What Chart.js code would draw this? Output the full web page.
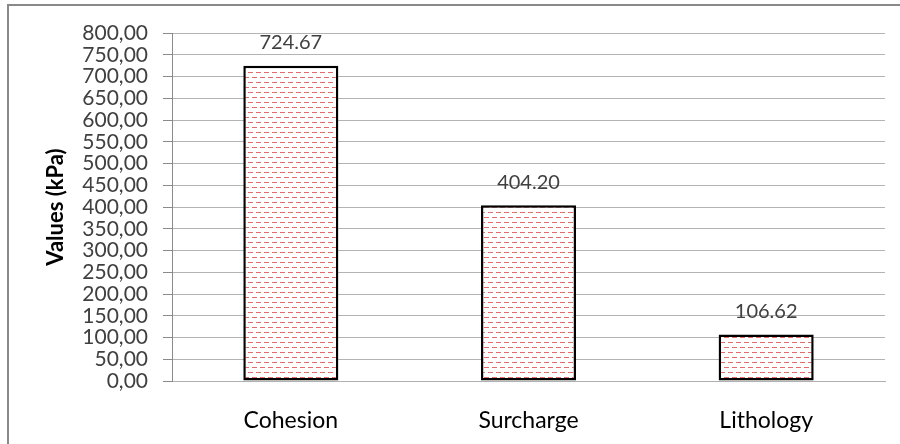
<!DOCTYPE html>
<html>
<head>
<meta charset="utf-8">
<script src="https://cdn.jsdelivr.net/npm/chart.js@4/dist/chart.umd.min.js"></script>
<style>
  html, body { margin: 0; padding: 0; background: #fff; }
  #wrap { width: 900px; height: 444px; position: relative; }
</style>
</head>
<body>
<div id="wrap"><canvas id="myChart" width="900" height="444"></canvas></div>
<script>
// Datos del gráfico
const categorias = ['Cohesion', 'Surcharge', 'Lithology'];
const valores = [724.67, 404.20, 106.62];
const etiquetas = ['724.67', '404.20', '106.62'];

// Trama de guiones rojos para las barras
function crearTrama() {
    const c = document.createElement('canvas');
    c.width = 8;
    c.height = 10;
    const g = c.getContext('2d');
    g.fillStyle = '#fff';
    g.fillRect(0, 0, 8, 10);
    g.fillStyle = 'rgba(222, 70, 70, 0.8)';
    g.fillRect(0, 2, 5, 1);
    g.fillRect(4, 7, 4, 1);
    g.fillRect(0, 7, 1, 1);
    return g.createPattern(c, 'repeat');
}

// Marco exterior del gráfico
const marco = {
    id: 'marco',
    afterDraw(chart) {
        const g = chart.ctx;
        g.save();
        g.strokeStyle = '#898989';
        g.lineWidth = 2;
        g.strokeRect(8, 5, 905, 460);
        g.restore();
    }
};

// Valores encima de cada barra
const etiquetasBarras = {
    id: 'etiquetasBarras',
    afterDatasetsDraw(chart) {
        const g = chart.ctx;
        const meta = chart.getDatasetMeta(0);
        g.save();
        g.font = '20px Lato';
        g.fillStyle = '#404040';
        g.textAlign = 'center';
        g.textBaseline = 'middle';
        meta.data.forEach((bar, i) => {
            g.fillText(etiquetas[i], bar.x, bar.y - 23);
        });
        g.restore();
    }
};

const ctx = document.getElementById('myChart').getContext('2d');
const myChart = new Chart(ctx, {
    type: 'bar',
    data: {
        labels: categorias,
        datasets: [{
            data: valores,
            backgroundColor: crearTrama(),
            borderColor: '#000',
            borderWidth: 2.5,
            borderSkipped: false,
            categoryPercentage: 1,
            barPercentage: 0.4
        }]
    },
    options: {
        responsive: false,
        animation: false,
        layout: { padding: { left: 8, top: 33, right: 15, bottom: 0 } },
        plugins: {
            legend: { display: false },
            tooltip: { enabled: false }
        },
        scales: {
            x: {
                grid: { display: false, drawTicks: false },
                border: { color: '#b0b0b0', width: 1 },
                ticks: { color: '#000', font: { family: 'Lato', size: 23 }, padding: 26 },
                afterFit(scale) { scale.height = 63; }
            },
            y: {
                min: 0,
                max: 800,
                ticks: {
                    stepSize: 50,
                    autoSkip: false,
                    color: '#404040',
                    font: { family: 'Lato', size: 21 },
                    padding: 15,
                    callback: v => v.toFixed(2).replace('.', ',')
                },
                grid: { color: '#b3b3b3', lineWidth: 1, tickLength: 9, tickColor: '#8a8a8a' },
                border: { color: '#8a8a8a', width: 1 },
                title: {
                    display: true,
                    text: 'Values (kPa)',
                    color: '#000',
                    font: { family: 'Lato', size: 22, weight: 'bold' },
                    padding: { top: 35, bottom: 0 }
                },
                afterFit(scale) { scale.width = 164; }
            }
        }
    },
    plugins: [marco, etiquetasBarras]
});
</script>
</body>
</html>
